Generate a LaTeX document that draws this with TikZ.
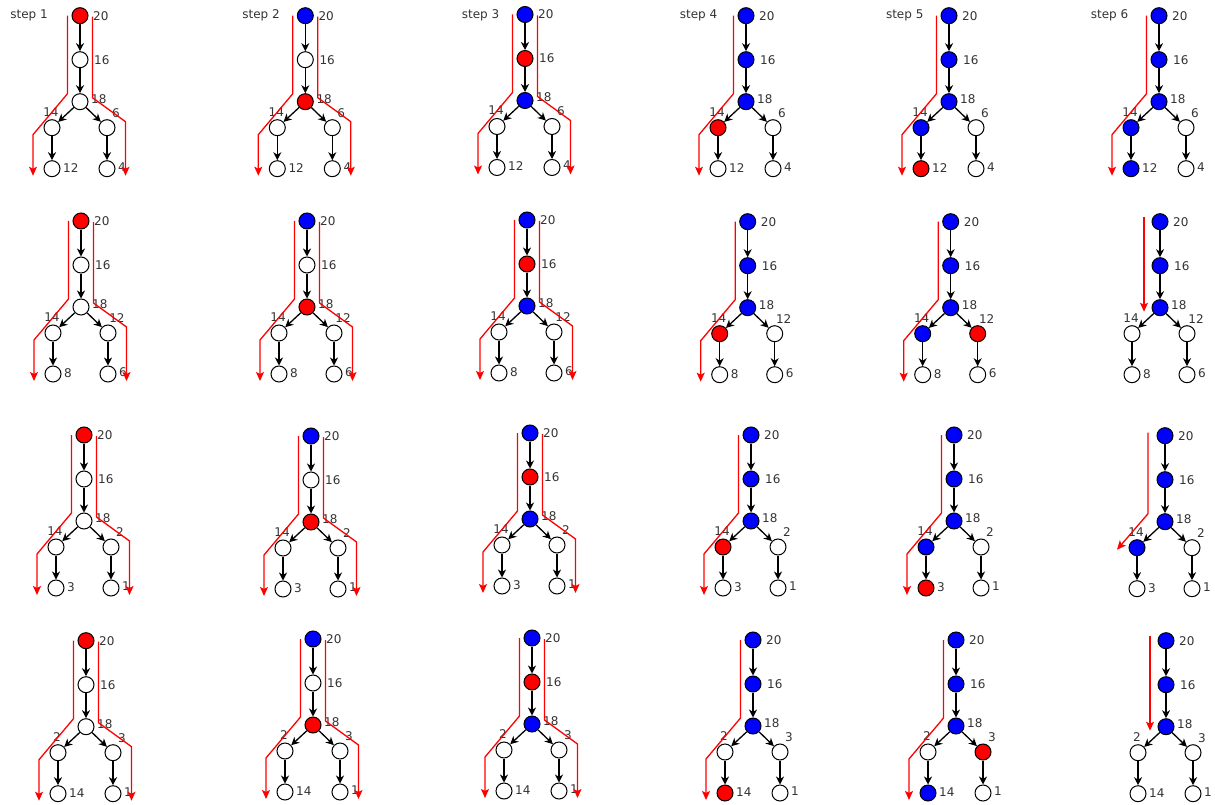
\documentclass[tikz,border=0pt]{standalone}
\usepackage{fontspec}
\setmainfont{DejaVu Sans}
\usetikzlibrary{arrows.meta}

\tikzset{
  cell/.style={circle, draw, line width=1pt, minimum size=16pt, inner sep=0pt},
  open/.style={fill=white},
  done/.style={fill=blue},
  hot/.style={fill=red},
  link/.style={line width=1.3pt, -{Stealth[length=8pt,width=8pt,inset=2.5pt]}},
  route/.style={red, line width=1.3pt, -{Stealth[length=9pt,width=8pt,inset=2pt]}},
  key/.style={font=\fontsize{12}{13}\selectfont, text=black!80, inner sep=0pt},
  steptag/.style={key}
}

% red routes, relative to the root of a heap
\newcommand{\goleft}{\draw[route] (-12.5,0) -- (-12.5,78) -- (-47,119) -- (-47,160);}
\newcommand{\goright}{\draw[route] (12.5,1) -- (12.5,82) -- (45.5,106) -- (45.5,160);}
\newcommand{\godown}{\draw[route] (-16,-5) -- (-16,90);}
\newcommand{\goslant}{\draw[route] (-17,-3) -- (-17,78) -- (-48,114);}

% one heap: name, root position, fill/key pairs, routes
\newcommand{\heap}[4]{%
  \begin{scope}[shift={#2}]
    \foreach \fil/\val [count=\i] in {#3} {
      \pgfmathsetmacro{\nx}{{0,0,0,-28,27,-28,27}[\i-1]}
      \pgfmathsetmacro{\ny}{{0,44,86,112,112,153,153}[\i-1]}
      \pgfmathsetmacro{\kx}{{13,14,11,-1,9,11,11}[\i-1]}
      \pgfmathsetmacro{\ky}{{0,0,-3,-16,-15,-1,-2}[\i-1]}
      \ifnum\i<4 \def\ka{west}\else\ifnum\i>5 \def\ka{west}\else\def\ka{center}\fi\fi
      \node[cell, \fil] (#1-\i) at (\nx,\ny) {};
      \node[key, anchor=\ka] (#1-k\i) at (\nx+\kx,\ny+\ky) {\val};
    }
    \draw[link] (#1-1) -- (#1-2);
    \draw[link] (#1-2) -- (#1-3);
    \draw[link] (#1-3) -- (#1-4);
    \draw[link] (#1-3) -- (#1-5);
    \draw[link] (#1-4) -- (#1-6);
    \draw[link] (#1-5) -- (#1-7);
    #4
  \end{scope}}

\begin{document}
\begin{tikzpicture}[x=1pt, y=-1pt]
  \useasboundingbox (0,0) rectangle (1215,805);

  % step captions
  \foreach \s/\x in {1/29,2/261,3/480.5,4/698.5,5/904.7,6/1109.5} {
    \node[steptag] (tag\s) at (\x,15) {step \s};
  }

  % row 1
  \heap{r1c1}{(80,15.7)}{hot/20,open/16,open/18,open/14,open/6,open/12,open/4}{\goleft\goright}
  \heap{r1c2}{(305.3,15.7)}{done/20,open/16,hot/18,open/14,open/6,open/12,open/4}{\goleft\goright}
  \heap{r1c3}{(525,14.5)}{done/20,hot/16,done/18,open/14,open/6,open/12,open/4}{\goleft\goright}
  \heap{r1c4}{(746,15.7)}{done/20,done/16,done/18,hot/14,open/6,open/12,open/4}{\goleft}
  \heap{r1c5}{(949,15.7)}{done/20,done/16,done/18,done/14,open/6,hot/12,open/4}{\goleft}
  \heap{r1c6}{(1159,15.7)}{done/20,done/16,done/18,done/14,open/6,done/12,open/4}{\goleft}

  % row 2
  \heap{r2c1}{(81,221)}{hot/20,open/16,open/18,open/14,open/12,open/8,open/6}{\goleft\goright}
  \heap{r2c2}{(307,221)}{done/20,open/16,hot/18,open/14,open/12,open/8,open/6}{\goleft\goright}
  \heap{r2c3}{(527,220)}{done/20,hot/16,done/18,open/14,open/12,open/8,open/6}{\goleft\goright}
  \heap{r2c4}{(747.7,221.7)}{done/20,done/16,done/18,hot/14,open/12,open/8,open/6}{\goleft}
  \heap{r2c5}{(950.7,221.7)}{done/20,done/16,done/18,done/14,hot/12,open/8,open/6}{\goleft}
  \heap{r2c6}{(1160,221.7)}{done/20,done/16,done/18,open/14,open/12,open/8,open/6}{\godown}

  % row 3
  \heap{r3c1}{(84,435)}{hot/20,open/16,open/18,open/14,open/2,open/3,open/1}{\goleft\goright}
  \heap{r3c2}{(311,436)}{done/20,open/16,hot/18,open/14,open/2,open/3,open/1}{\goleft\goright}
  \heap{r3c3}{(530,433)}{done/20,hot/16,done/18,open/14,open/2,open/3,open/1}{\goleft\goright}
  \heap{r3c4}{(751,435)}{done/20,done/16,done/18,hot/14,open/2,open/3,open/1}{\goleft}
  \heap{r3c5}{(954,435)}{done/20,done/16,done/18,done/14,open/2,hot/3,open/1}{\goleft}
  \heap{r3c6}{(1165,435.7)}{done/20,done/16,done/18,done/14,open/2,open/3,open/1}{\goslant}

  % row 4
  \heap{r4c1}{(86,640.7)}{hot/20,open/16,open/18,open/2,open/3,open/14,open/1}{\goleft\goright}
  \heap{r4c2}{(313,639)}{done/20,open/16,hot/18,open/2,open/3,open/14,open/1}{\goleft\goright}
  \heap{r4c3}{(532,638)}{done/20,hot/16,done/18,open/2,open/3,open/14,open/1}{\goleft\goright}
  \heap{r4c4}{(753,640)}{done/20,done/16,done/18,open/2,open/3,hot/14,open/1}{\goleft}
  \heap{r4c5}{(956,640)}{done/20,done/16,done/18,open/2,hot/3,done/14,open/1}{\goleft}
  \heap{r4c6}{(1166,640.7)}{done/20,done/16,done/18,open/2,open/3,open/14,open/1}{\godown}
\end{tikzpicture}
\end{document}
